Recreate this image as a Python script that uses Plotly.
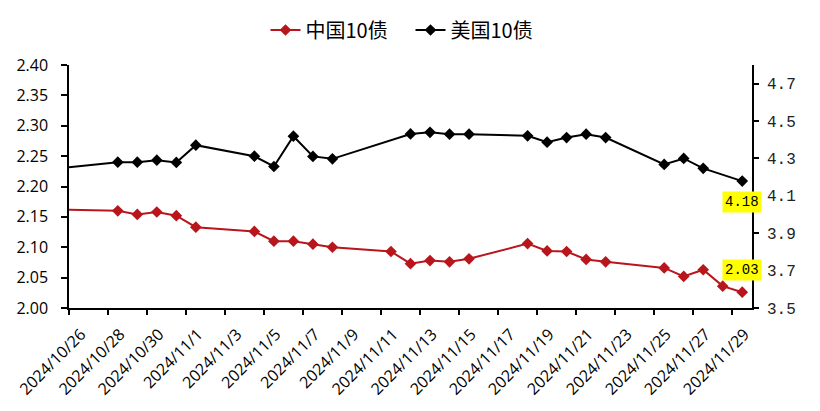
import pandas as pd
import plotly.graph_objects as go

dates = ["2024-10-25", "2024-10-28", "2024-10-29", "2024-10-30", "2024-10-31", "2024-11-01",
         "2024-11-04", "2024-11-05", "2024-11-06", "2024-11-07", "2024-11-08",
         "2024-11-11", "2024-11-12", "2024-11-13", "2024-11-14", "2024-11-15",
         "2024-11-18", "2024-11-19", "2024-11-20", "2024-11-21", "2024-11-22",
         "2024-11-25", "2024-11-26", "2024-11-27", "2024-11-28", "2024-11-29"]
cn10 = [2.162, 2.160, 2.154, 2.158, 2.152, 2.133,
        2.126, 2.110, 2.110, 2.105, 2.100,
        2.093, 2.073, 2.078, 2.076, 2.081,
        2.106, 2.094, 2.093, 2.080, 2.076,
        2.066, 2.052, 2.063, 2.036, 2.026]
us10 = [4.248, 4.280, 4.280, 4.291, 4.279, 4.371,
        4.312, 4.257, 4.419, 4.311, 4.298,
        None, 4.431, 4.440, 4.430, 4.430,
        4.421, 4.387, 4.412, 4.430, 4.412,
        4.268, 4.300, 4.247, None, 4.179]
series_names = ["中国10债", "美国10债"]
left_ticks = [2.00, 2.05, 2.10, 2.15, 2.20, 2.25, 2.30, 2.35, 2.40]
right_ticks = [3.5, 3.7, 3.9, 4.1, 4.3, 4.5, 4.7]

RED = "#B8161C"
BLACK = "#000000"
MONO = "Liberation Mono"

# points sit in the middle of each day (date axis, between tick marks)
xs = pd.to_datetime(pd.Series(dates)) + pd.Timedelta(hours=12)
tick_days = pd.date_range("2024-10-26", "2024-11-29", freq="2D")
tick_text = [f"{d.year}/{d.month}/{d.day}" for d in tick_days]

fig = go.Figure()
fig.add_trace(go.Scatter(x=xs, y=cn10, name=series_names[0], mode="lines+markers",
                         line=dict(color=RED, width=2),
                         marker=dict(symbol="diamond", size=9, color=RED),
                         yaxis="y"))
fig.add_trace(go.Scatter(x=xs, y=us10, name=series_names[1], mode="lines+markers",
                         connectgaps=True,
                         line=dict(color=BLACK, width=2),
                         marker=dict(symbol="diamond", size=9, color=BLACK),
                         yaxis="y2"))

fig.add_annotation(x=xs.iloc[-1], y=us10[-1], xref="x", yref="y2",
                   text=f"{us10[-1]:.2f}", showarrow=False, yshift=-21,
                   bgcolor="#FFFF00", borderpad=2,
                   font=dict(family=MONO, size=14, color="#000"))
fig.add_annotation(x=xs.iloc[-1], y=cn10[-1], xref="x", yref="y",
                   text=f"{cn10[-1]:.2f}", showarrow=False, yshift=22,
                   bgcolor="#FFFF00", borderpad=2,
                   font=dict(family=MONO, size=14, color="#000"))

fig.update_layout(
    width=820, height=411,
    template="none",
    paper_bgcolor="white", plot_bgcolor="white",
    margin=dict(l=69, r=68, t=65, b=103, autoexpand=False),
    showlegend=True,
    legend=dict(orientation="h", x=0.5, xanchor="center", y=1.144, yanchor="middle",
                font=dict(family="Noto Sans CJK SC", size=20, color="#000"),
                itemwidth=30, entrywidth=100, entrywidthmode="pixels",
                bgcolor="rgba(0,0,0,0)"),
    xaxis=dict(type="date", range=["2024-10-26", "2024-11-30"],
               tickvals=tick_days, ticktext=tick_text, tickangle=-45,
               showline=True, linecolor="black", linewidth=1.5,
               ticks="outside", ticklen=5, tickcolor="black", tickwidth=1.5,
               showgrid=False, zeroline=False, automargin=False,
               ticklabelshift=12, ticklabelstandoff=4,
               tickfont=dict(family="Open Sans", size=16, color="#000")),
    yaxis=dict(range=[2.0, 2.4], tickvals=left_ticks,
               ticktext=[f"{v:.2f}" for v in left_ticks],
               showline=True, linecolor="black", linewidth=1.5,
               ticks="outside", ticklen=6, tickcolor="black", tickwidth=1.5,
               showgrid=False, zeroline=False, automargin=False,
               ticklabelstandoff=10,
               tickfont=dict(family="Open Sans", size=16, color="#000")),
    yaxis2=dict(range=[3.5, 4.8], overlaying="y", side="right",
                tickvals=right_ticks, ticktext=[f"{v:.1f}" for v in right_ticks],
                showline=True, linecolor="black", linewidth=1.5,
                ticks="outside", ticklen=5, tickcolor="black", tickwidth=1.5,
                showgrid=False, zeroline=False, automargin=False,
                ticklabelstandoff=5,
                tickfont=dict(family=MONO, size=16, color="#222")),
)

fig.write_html("out.html")
